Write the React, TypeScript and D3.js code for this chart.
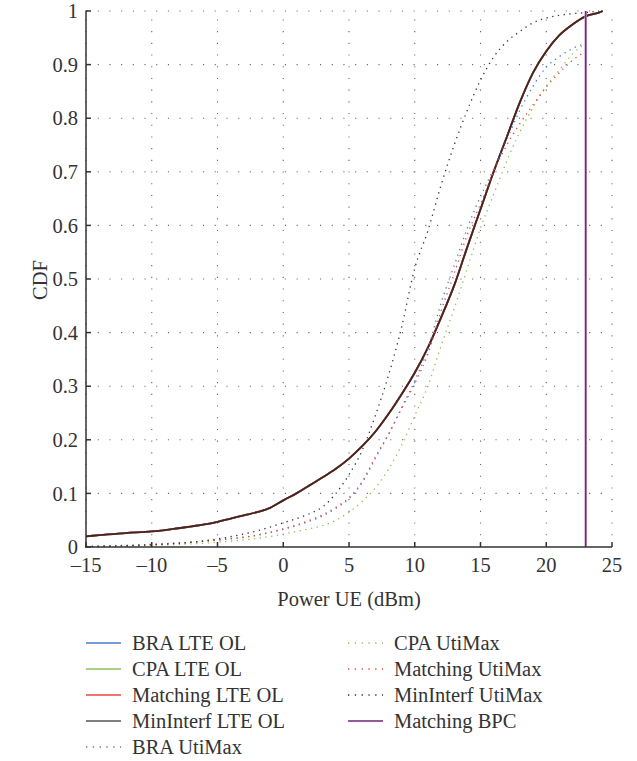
import React from "react";
import * as d3 from "d3";

const xTicks = [-15, -10, -5, 0, 5, 10, 15, 20, 25];
const yTicks = [0, 0.1, 0.2, 0.3, 0.4, 0.5, 0.6, 0.7, 0.8, 0.9, 1];

const lteX = [-15, -14, -12, -10, -8, -6, -5, -4, -3, -2, -1, 0, 1, 2, 3, 4, 5, 6, 7, 8, 9, 10, 11, 12, 13, 14, 15, 16, 17, 18, 19, 20, 21, 22, 23, 24, 24.3];
const lteY = [0.02, 0.022, 0.026, 0.029, 0.035, 0.042, 0.047, 0.053, 0.059, 0.065, 0.073, 0.087, 0.1, 0.115, 0.13, 0.146, 0.165, 0.188, 0.215, 0.248, 0.285, 0.325, 0.372, 0.428, 0.488, 0.56, 0.63, 0.7, 0.765, 0.83, 0.885, 0.925, 0.955, 0.975, 0.99, 0.997, 1.0];

const utiX = [-15, -10, -5, -2, 0, 1, 2, 3, 4, 5, 6, 7, 8, 9, 10, 11, 12, 13, 14, 15, 16, 17, 18, 19, 20, 21, 22, 23];
const braUti = [0.001, 0.005, 0.013, 0.022, 0.033, 0.04, 0.048, 0.058, 0.072, 0.09, 0.12, 0.165, 0.21, 0.26, 0.31, 0.37, 0.455, 0.525, 0.595, 0.654, 0.705, 0.76, 0.815, 0.86, 0.895, 0.915, 0.93, 0.94];
const cpaUti = [0.0, 0.003, 0.009, 0.016, 0.024, 0.029, 0.034, 0.04, 0.05, 0.065, 0.085, 0.11, 0.145, 0.19, 0.245, 0.3, 0.375, 0.445, 0.52, 0.595, 0.658, 0.72, 0.775, 0.82, 0.86, 0.89, 0.92, 0.94];
const matchUti = [0.001, 0.005, 0.013, 0.022, 0.034, 0.041, 0.05, 0.06, 0.074, 0.092, 0.122, 0.168, 0.21, 0.258, 0.305, 0.36, 0.44, 0.51, 0.583, 0.64, 0.7, 0.75, 0.79, 0.825, 0.858, 0.885, 0.908, 0.925];
const minUtiX = [-15, -10, -5, -2, 0, 1, 2, 3, 4, 5, 6, 7, 8, 9, 10, 11, 12, 13, 14, 15, 16, 17, 18, 19, 20, 21, 22, 23, 24];
const minUti = [0.001, 0.004, 0.015, 0.03, 0.045, 0.053, 0.062, 0.075, 0.1, 0.135, 0.18, 0.245, 0.32, 0.41, 0.52, 0.59, 0.675, 0.75, 0.815, 0.871, 0.914, 0.943, 0.962, 0.978, 0.987, 0.992, 0.995, 0.997, 1.0];
const bpcX = [23, 23];
const bpcY = [0, 1];

const legendCol1 = ["BRA LTE OL", "CPA LTE OL", "Matching LTE OL", "MinInterf LTE OL", "BRA UtiMax"];
const legendCol2 = ["CPA UtiMax", "Matching UtiMax", "MinInterf UtiMax", "Matching BPC"];

const FONT = "'Liberation Serif', 'Times New Roman', serif";
const TXT = "#333333";
const FS = 20.5;

type Series = { name: string; xs: number[]; ys: number[]; color: string; dotted: boolean; opacity?: number };

const series: Series[] = [
  { name: "BRA LTE OL", xs: lteX, ys: lteY, color: "#4a7bd0", dotted: false },
  { name: "CPA LTE OL", xs: lteX, ys: lteY, color: "#8cc152", dotted: false },
  { name: "Matching LTE OL", xs: lteX, ys: lteY, color: "#e8473f", dotted: false },
  { name: "MinInterf LTE OL", xs: lteX, ys: lteY, color: "#2a1f1f", dotted: false, opacity: 0.85 },
  { name: "BRA UtiMax", xs: utiX, ys: braUti, color: "#4a7bd0", dotted: true },
  { name: "CPA UtiMax", xs: utiX, ys: cpaUti, color: "#8cc152", dotted: true },
  { name: "Matching UtiMax", xs: utiX, ys: matchUti, color: "#e8473f", dotted: true },
  { name: "MinInterf UtiMax", xs: minUtiX, ys: minUti, color: "#333333", dotted: true },
];

const legendColor: Record<string, { c: string; dotted: boolean }> = {
  "BRA LTE OL": { c: "#4a7bd0", dotted: false },
  "CPA LTE OL": { c: "#8cc152", dotted: false },
  "Matching LTE OL": { c: "#e8473f", dotted: false },
  "MinInterf LTE OL": { c: "#555555", dotted: false },
  "BRA UtiMax": { c: "#4a7bd0", dotted: true },
  "CPA UtiMax": { c: "#8cc152", dotted: true },
  "Matching UtiMax": { c: "#e8473f", dotted: true },
  "MinInterf UtiMax": { c: "#333333", dotted: true },
  "Matching BPC": { c: "#955a9c", dotted: false },
};

export default function App() {
  const left = 86, right = 612, top = 11, bottom = 547;
  const x = d3.scaleLinear().domain([-15, 25]).range([left, right]);
  const y = d3.scaleLinear().domain([0, 1]).range([bottom, top]);
  const line = d3.line<[number, number]>().x((d) => x(d[0])).y((d) => y(d[1])).curve(d3.curveMonotoneX);
  const straight = d3.line<[number, number]>().x((d) => x(d[0])).y((d) => y(d[1]));

  const legendRows = (items: string[], lx: number, tx: number) =>
    items.map((name, i) => {
      const yy = 643 + i * 26;
      const lc = legendColor[name];
      return (
        <g key={name}>
          <line
            x1={lx}
            x2={lx + 35}
            y1={yy}
            y2={yy}
            stroke={lc.c}
            strokeWidth={lc.dotted ? 1.3 : name === "Matching BPC" ? 2 : 1.6}
            strokeDasharray={lc.dotted ? "1.3 5.5" : undefined}
          />
          <text x={tx} y={yy} dominantBaseline="central" fontSize={FS} fontFamily={FONT} fill={TXT}>
            {name}
          </text>
        </g>
      );
    });

  const bpcPath = straight(bpcX.map((v, i) => [v, bpcY[i]] as [number, number])) || "";

  return (
    <svg width={637} height={761} style={{ position: "absolute", left: 0, top: 0, background: "#fff" }}>
      {/* grid */}
      <g stroke="#666" strokeWidth={1.1} strokeDasharray="1.1 10.6">
        {xTicks.map((t) => (
          <line key={"gx" + t} x1={x(t)} x2={x(t)} y1={bottom} y2={top} />
        ))}
        {yTicks.filter((t) => t > 0).map((t) => (
          <line key={"gy" + t} x1={left} x2={right} y1={y(t)} y2={y(t)} />
        ))}
      </g>
      {/* series */}
      {series.map((s) => (
        <path
          key={s.name}
          d={line(s.xs.map((v, i) => [v, s.ys[i]] as [number, number])) || ""}
          fill="none"
          stroke={s.color}
          strokeOpacity={s.opacity ?? 1}
          strokeWidth={s.dotted ? 1.3 : 1.8}
          strokeDasharray={s.dotted ? "1.3 4.5" : undefined}
        />
      ))}
      {/* BPC */}
      <path d={bpcPath} stroke="#c99bd0" strokeWidth={2.6} fill="none" />
      <path d={bpcPath} stroke="#6a2a6a" strokeWidth={1.3} fill="none" />
      {/* axes */}
      <g stroke="#333" strokeWidth={1.5} fill="none">
        <line x1={left} x2={left} y1={top - 0.5} y2={bottom + 0.75} />
        <line x1={left - 0.75} x2={right} y1={bottom} y2={bottom} />
        {xTicks.map((t) => (
          <line key={"tx" + t} x1={x(t)} x2={x(t)} y1={bottom} y2={bottom - 5} />
        ))}
        {yTicks.map((t) => (
          <line key={"ty" + t} x1={left} x2={left + 5} y1={y(t)} y2={y(t)} />
        ))}
      </g>
      {/* tick labels */}
      {xTicks.map((t) => (
        <text key={"lx" + t} x={x(t)} y={572} textAnchor="middle" fontSize={FS} fontFamily={FONT} fill={TXT}>
          {t < 0 ? "\u2013" + Math.abs(t) : String(t)}
        </text>
      ))}
      {yTicks.map((t) => (
        <text key={"ly" + t} x={78} y={y(t)} dy="0.35em" textAnchor="end" fontSize={FS} fontFamily={FONT} fill={TXT}>
          {t === 0 ? "0" : t === 1 ? "1" : d3.format(".1f")(t)}
        </text>
      ))}
      <text x={349} y={606} textAnchor="middle" fontSize={FS} fontFamily={FONT} fill={TXT}>
        Power UE (dBm)
      </text>
      <text transform="translate(40,280) rotate(-90)" textAnchor="middle" dominantBaseline="central" fontSize={FS} fontFamily={FONT} fill={TXT}>
        CDF
      </text>
      {/* legend */}
      {legendRows(legendCol1, 86, 132)}
      {legendRows(legendCol2, 348, 394)}
    </svg>
  );
}
